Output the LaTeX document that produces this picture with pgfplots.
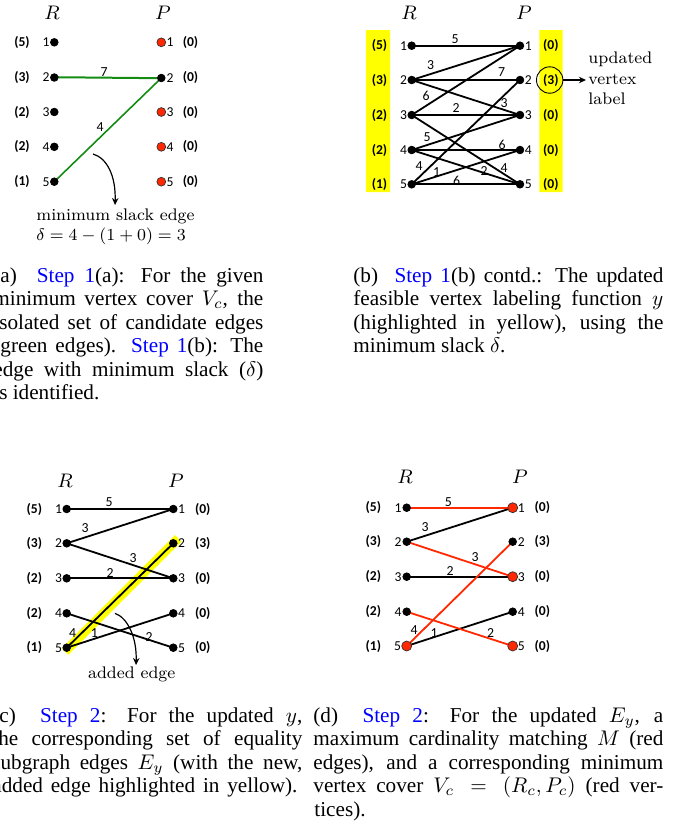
\RequirePackage{fix-cm}
\documentclass[border=0pt]{standalone}
\usepackage{fontspec}
\usepackage{xcolor}
\usepackage{pgfplots}
\pgfplotsset{compat=1.18}
\usetikzlibrary{arrows.meta}
\newfontfamily\capf{Liberation Serif}
\newfontfamily\carl{Carlito}
\definecolor{vred}{RGB}{255,40,0}
\definecolor{egreen}{RGB}{20,140,20}
\definecolor{hy}{RGB}{255,255,0}
\newcommand{\E}[5][black]{\addplot[#1, line width=0.9pt] coordinates {(#2,#3) (#4,#5)};}
\newcommand{\W}[3]{\node[font=\carl\fontsize{6.9}{8}\selectfont, inner sep=0] at (axis cs:#1,#2) {#3};}
\newcommand{\VLL}[3]{\node[font=\carl\fontsize{6.8}{8}\selectfont, inner sep=0, anchor=east] at (axis cs:#1,#2) {#3};}
\newcommand{\VLR}[3]{\node[font=\carl\fontsize{6.8}{8}\selectfont, inner sep=0, anchor=west] at (axis cs:#1,#2) {#3};}
\newcommand{\VP}[3]{\node[font=\carl\bfseries\fontsize{6.8}{8}\selectfont, inner sep=0] at (axis cs:#1,#2) {#3};}
\newcommand{\CL}[4]{\node[anchor=base west, inner sep=0, font=\capf\fontsize{10.6}{11.75}\selectfont] at (axis cs:#1,#2) {\makebox[#3][s]{#4}};}
\newcommand{\CN}[3]{\node[anchor=base west, inner sep=0, font=\capf\fontsize{10.6}{11.75}\selectfont] at (axis cs:#1,#2) {#3};}
\newcommand{\ST}[1]{\textcolor{blue}{#1}}
\begin{document}
\begin{tikzpicture}
\begin{axis}[name=ax, width=341.5pt, height=413.5pt, scale only axis, hide axis,
  xmin=0, xmax=683, ymin=0, ymax=827, y dir=reverse, clip=true]

% ===== panel (a) =====
\addplot[egreen, line width=1pt] coordinates {(54.3,77.2) (161.3,78.2)};
\addplot[egreen, line width=0.8pt] coordinates {(54.3,181.7) (161.3,78)};
\addplot[only marks, mark=*, mark size=1.9pt, black] coordinates {(54.3,42.3) (54.3,77.5) (54.3,112) (54.3,146.8) (54.3,181.7) (161.3,78)};
\addplot[only marks, mark=*, mark size=2.2pt, mark options={fill=vred, draw=black!80, line width=0.35pt}] coordinates {(161.3,42.3) (161.3,112) (161.3,146.8) (161.3,181.7)};
\W{104}{72}{7}
\W{100}{127}{4}

% ===== panel (b) =====
\addplot[fill=hy, draw=none] coordinates {(366,30) (390,30) (390,192) (366,192) (366,30)};
\addplot[fill=hy, draw=none] coordinates {(539.3,30) (562.7,30) (562.7,192) (539.3,192) (539.3,30)};
\E{411.7}{45.7}{520}{45.7}
\E{411.7}{80}{520}{45.7}
\E{411.7}{80}{520}{80}
\E{411.7}{80}{520}{115}
\E{411.7}{115}{520}{45.7}
\E{411.7}{115}{520}{115}
\E{411.7}{115}{520}{184.3}
\E{411.7}{150}{520}{115}
\E{411.7}{150}{520}{150}
\E{411.7}{150}{520}{184.3}
\E{411.7}{184.3}{520}{80}
\E{411.7}{184.3}{520}{150}
\E{411.7}{184.3}{520}{184.3}
\addplot[only marks, mark=*, mark size=1.9pt, black] coordinates {(411.7,45.7) (411.7,80) (411.7,115) (411.7,150) (411.7,184.3) (520,45.7) (520,80) (520,115) (520,150) (520,184.3)};
\W{455}{39}{5}
\W{430.7}{65}{3}
\W{501.7}{72}{7}
\W{504}{103}{3}
\W{426}{96}{6}
\W{456}{108}{2}
\W{427}{137}{5}
\W{502}{145}{6}
\W{484}{171}{2}
\W{504}{168.3}{4}
\W{419}{165.7}{4}
\W{436.7}{172}{1}
\W{456.7}{181}{6}

% ===== panel (c) =====
\addplot[hy, line width=4.6pt] coordinates {(65,651.7) (178.3,538.3)};
\E{66.7}{509}{173.3}{509}
\E{66.7}{543.3}{173.3}{509}
\E{66.7}{543.3}{173.3}{578.3}
\E{66.7}{578.3}{173.3}{578.3}
\E{66.7}{613.3}{173.3}{647.7}
\E{66.7}{647.7}{173.3}{543.3}
\E{66.7}{647.7}{173.3}{613.3}
\addplot[only marks, mark=*, mark size=1.9pt, black] coordinates {(66.7,509) (66.7,543.3) (66.7,578.3) (66.7,613.3) (66.7,647.7) (173.3,509) (173.3,543.3) (173.3,578.3) (173.3,613.3) (173.3,647.7)};
\W{109}{501.7}{5}
\W{85}{528}{3}
\W{133}{558}{3}
\W{110}{572.7}{2}
\W{149}{636.7}{2}
\W{94.3}{633}{1}
\W{72.7}{633}{4}

% ===== panel (d) =====
\E{406.7}{541.7}{512.7}{507.7}
\E{406.7}{576.7}{512.7}{576.7}
\E{406.7}{646}{512.7}{611.7}
\E[vred]{406.7}{507.7}{512.7}{507.7}
\E[vred]{406.7}{541.7}{512.7}{576.7}
\E[vred]{406.7}{611.7}{512.7}{646}
\E[vred]{406.7}{646}{512.7}{541.7}
\addplot[only marks, mark=*, mark size=1.9pt, black] coordinates {(406.7,507.7) (406.7,541.7) (406.7,576.7) (406.7,611.7) (512.7,541.7) (512.7,611.7)};
\addplot[only marks, mark=*, mark size=2.5pt, mark options={fill=vred, draw=black!80, line width=0.35pt}] coordinates {(406.7,646) (512.7,507.7) (512.7,576.7) (512.7,646)};
\W{448.3}{501.7}{5}
\W{425}{526.7}{3}
\W{475}{556.7}{3}
\W{450}{571}{2}
\W{490.7}{633.3}{2}
\W{434}{632.7}{1}
\W{414}{630}{4}

% ===== vertex labels =====
% (a)
\VLL{50}{42.3}{1}\VLL{50}{77.5}{2}\VLL{50}{112}{3}\VLL{50}{146.8}{4}\VLL{50}{181.7}{5}
\VLR{166.3}{42.3}{1}\VLR{166.3}{78}{2}\VLR{166.3}{112}{3}\VLR{166.3}{146.8}{4}\VLR{166.3}{181.7}{5}
\VP{22}{42.3}{(5)}\VP{22}{77.5}{(3)}\VP{22}{112}{(2)}\VP{22}{146.8}{(2)}\VP{22}{181.7}{(1)}
\VP{190.5}{42.3}{(0)}\VP{190.5}{77.5}{(0)}\VP{190.5}{112}{(0)}\VP{190.5}{146.8}{(0)}\VP{190.5}{181.7}{(0)}
% (b)
\VLL{407.5}{45.7}{1}\VLL{407.5}{80}{2}\VLL{407.5}{115}{3}\VLL{407.5}{150}{4}\VLL{407.5}{184.3}{5}
\VLR{524.5}{45.7}{1}\VLR{524.5}{80}{2}\VLR{524.5}{115}{3}\VLR{524.5}{150}{4}\VLR{524.5}{184.3}{5}
\VP{379.5}{45.7}{(5)}\VP{379.5}{80}{(3)}\VP{379.5}{115}{(2)}\VP{379.5}{150}{(2)}\VP{379.5}{184.3}{(1)}
\VP{550.8}{45.7}{(0)}\VP{550.8}{80}{(3)}\VP{550.8}{115}{(0)}\VP{550.8}{150}{(0)}\VP{550.8}{184.3}{(0)}
% (c)
\VLL{62.5}{509}{1}\VLL{62.5}{543.3}{2}\VLL{62.5}{578.3}{3}\VLL{62.5}{613.3}{4}\VLL{62.5}{647.7}{5}
\VLR{177.8}{509}{1}\VLR{177.8}{543.3}{2}\VLR{177.8}{578.3}{3}\VLR{177.8}{613.3}{4}\VLR{177.8}{647.7}{5}
\VP{34.3}{509}{(5)}\VP{34.3}{543.3}{(3)}\VP{34.3}{578.3}{(2)}\VP{34.3}{613.3}{(2)}\VP{34.3}{647.7}{(1)}
\VP{202.7}{509}{(0)}\VP{202.7}{543.3}{(3)}\VP{202.7}{578.3}{(0)}\VP{202.7}{613.3}{(0)}\VP{202.7}{647.7}{(0)}
% (d)
\VLL{402}{507.7}{1}\VLL{402}{541.7}{2}\VLL{402}{576.7}{3}\VLL{402}{611.7}{4}\VLL{401.5}{646}{5}
\VLR{517.5}{507.7}{1}\VLR{517.5}{541.7}{2}\VLR{517.5}{576.7}{3}\VLR{517.5}{611.7}{4}\VLR{517.5}{646}{5}
\VP{373.3}{507.7}{(5)}\VP{373.3}{541.7}{(3)}\VP{373.3}{576.7}{(2)}\VP{373.3}{611.7}{(2)}\VP{373.3}{646}{(1)}
\VP{542.3}{507.7}{(0)}\VP{542.3}{541.7}{(3)}\VP{542.3}{576.7}{(0)}\VP{542.3}{611.7}{(0)}\VP{542.3}{646}{(0)}

% ===== R / P headers =====
\node[font=\fontsize{9.8}{12}\selectfont, inner sep=0] at (axis cs:52,13) {$R$};
\node[font=\fontsize{9.8}{12}\selectfont, inner sep=0] at (axis cs:163,13) {$P$};
\node[font=\fontsize{9.8}{12}\selectfont, inner sep=0] at (axis cs:409,13) {$R$};
\node[font=\fontsize{9.8}{12}\selectfont, inner sep=0] at (axis cs:524,13) {$P$};
\node[font=\fontsize{9.8}{12}\selectfont, inner sep=0] at (axis cs:65,481) {$R$};
\node[font=\fontsize{9.8}{12}\selectfont, inner sep=0] at (axis cs:176,481) {$P$};
\node[font=\fontsize{9.8}{12}\selectfont, inner sep=0] at (axis cs:405,477) {$R$};
\node[font=\fontsize{9.8}{12}\selectfont, inner sep=0] at (axis cs:520,477) {$P$};

% ===== annotations =====
\draw[-{Stealth[length=3.5pt,width=3.2pt]}, line width=0.6pt] (axis cs:93,154) .. controls (axis cs:107,158) and (axis cs:116,176) .. (axis cs:115,205);
\node[anchor=base west, inner sep=0, font=\fontsize{8.4}{10}\selectfont] at (axis cs:36,220) {minimum slack edge};
\node[anchor=base west, inner sep=0, font=\fontsize{8.4}{10}\selectfont] at (axis cs:36,240) {$\delta = 4 - (1+0) = 3$};

\draw[line width=0.45pt] (axis cs:549.7,80) circle[radius=6.6pt];
\draw[-{Stealth[length=3.5pt,width=3.2pt]}, line width=0.6pt] (axis cs:563,80) -- (axis cs:586,80);
\node[anchor=base west, inner sep=0, font=\fontsize{8.4}{10}\selectfont] at (axis cs:588,63) {updated};
\node[anchor=base west, inner sep=0, font=\fontsize{8.4}{10}\selectfont] at (axis cs:588,84) {vertex};
\node[anchor=base west, inner sep=0, font=\fontsize{8.4}{10}\selectfont] at (axis cs:588,104) {label};

\draw[-{Stealth[length=3.5pt,width=3.2pt]}, line width=0.6pt] (axis cs:115,613.3) .. controls (axis cs:128,618) and (axis cs:137,638) .. (axis cs:136,665);
\node[anchor=base, inner sep=0, font=\fontsize{8.4}{10}\selectfont] at (axis cs:131.7,678.3) {added edge};

% ===== captions =====
\CL{-7}{282}{135pt}{(a)~~\ST{Step 1}(a): For the given}
\CL{-7}{305.5}{135pt}{minimum vertex cover $V_c$, the}
\CL{-7}{329}{135pt}{isolated set of candidate edges}
\CL{-7}{352.5}{135pt}{(green edges). \ST{Step 1}(b): The}
\CL{-7}{376}{135pt}{edge with minimum slack ($\delta$)}
\CN{-7}{399.5}{is identified.}

\CL{353}{282}{155pt}{(b)~~\ST{Step 1}(b) contd.: The updated}
\CL{353}{305.5}{155pt}{feasible vertex labeling function $y$}
\CL{353}{329}{155pt}{(highlighted in yellow), using the}
\CN{353}{352.5}{minimum slack $\delta$.}

\CL{-8}{722.3}{155pt}{(c)~~\ST{Step 2}: For the updated $y$,}
\CL{-8}{745.8}{155pt}{the corresponding set of equality}
\CL{-8}{769.3}{155pt}{subgraph edges $E_y$ (with the new,}
\CL{-8}{792.8}{152.5pt}{added edge highlighted in yellow).}

\CL{313}{722.3}{175pt}{(d)~~\ST{Step 2}: For the updated $E_y$, a}
\CL{313}{745.8}{175pt}{maximum cardinality matching $M$ (red}
\CL{313}{769.3}{175pt}{edges), and a corresponding minimum}
\CL{313}{792.8}{175pt}{vertex cover $V_c = (R_c, P_c)$ (red ver-}
\CN{314}{816.3}{tices).}
\end{axis}
\pgfresetboundingbox
\path[use as bounding box] (ax.south west) rectangle (ax.north east);
\end{tikzpicture}
\end{document}
